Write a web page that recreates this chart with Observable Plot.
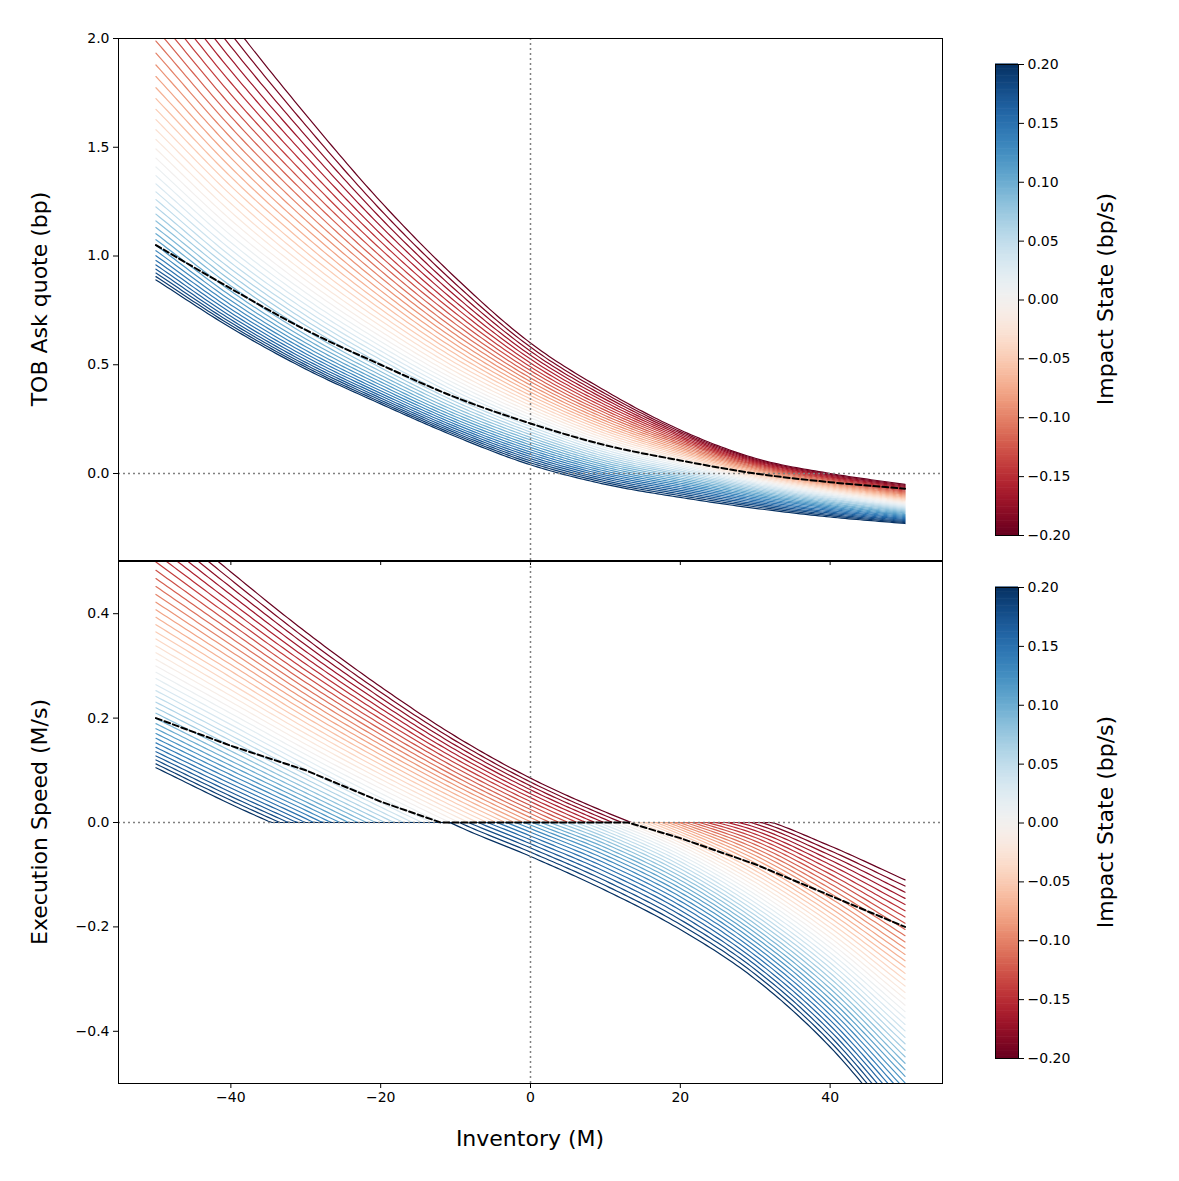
<!DOCTYPE html>
<html><head><meta charset="utf-8">
<script src="https://cdn.jsdelivr.net/npm/d3@7"></script>
<script src="https://cdn.jsdelivr.net/npm/@observablehq/plot@0.6"></script>
<style>
body{margin:0;background:#fff;font-family:"DejaVu Sans",sans-serif;}
#wrap{position:relative;width:1179px;height:1181px;}
.lab{position:absolute;font-size:22px;color:#000;white-space:nowrap;}
svg text{font-size:14px;}
</style></head>
<body><div id="wrap"></div>
<script>
// sample inventory positions
const xs=[-50,-40,-30,-20,-10,0,10,20,30,40,50];
// TOB ask quote (bp) for impact state -0.2, 0, 0.2
const topRed =[2.55,2.08,1.65,1.25,0.90,0.60,0.38,0.20,0.07,0.00,-0.05];
const topMid =[1.45,1.13,0.86,0.63,0.43,0.27,0.14,0.05,-0.03,-0.09,-0.14];
const topBlue=[0.89,0.67,0.48,0.32,0.17,0.04,-0.05,-0.11,-0.16,-0.20,-0.23];
const topDashX=xs;
const topDash=[1.05,0.85,0.66,0.50,0.35,0.23,0.13,0.06,0.00,-0.04,-0.07];
// Execution speed: positive branch and negative branch
const posRed =[0.60,0.48,0.365,0.26,0.165,0.085,0.02,-0.035,-0.085,-0.13,-0.17];
const posMid =[0.30,0.22,0.14,0.065,-0.005,-0.07,-0.13,-0.19,-0.25,-0.30,-0.35];
const posBlue=[0.105,0.035,-0.03,-0.10,-0.17,-0.24,-0.30,-0.36,-0.42,-0.48,-0.54];
const negRed =[0.50,0.40,0.31,0.23,0.16,0.10,0.055,0.03,0.01,-0.045,-0.11];
const negMid =[0.45,0.36,0.28,0.20,0.12,0.06,0.01,-0.05,-0.13,-0.23,-0.35];
const negBlue=[0.35,0.25,0.155,0.07,-0.005,-0.065,-0.13,-0.205,-0.30,-0.43,-0.60];
const botDashX=[-50,-40,-30,-20,-12,13,20,30,40,50];
const botDash=[0.20,0.147,0.10,0.04,0,0,-0.03,-0.08,-0.14,-0.20];
const states=d3.range(41).map(i=>-0.2+i*0.01);
const topTicks=[0,0.5,1,1.5,2];
const botTicks=[-0.4,-0.2,0,0.2,0.4];
const xTicks=[-40,-20,0,20,40];
const cbTicks=d3.range(9).map(i=>-0.2+i*0.05);

function cr(a,x){
  let t=(x+50)/10,i=Math.min(9,Math.floor(t)),u=t-i;
  const p=k=>k<0?2*a[0]-a[1]:k>10?2*a[10]-a[9]:a[k];
  const p0=p(i-1),p1=p(i),p2=p(i+1),p3=p(i+2);
  return 0.5*((2*p1)+(-p0+p2)*u+(2*p0-5*p1+4*p2-p3)*u*u+(-p0+3*p1-3*p2+p3)*u*u*u);
}
function quad(s,a,b,c){
  return a*s*(s-0.2)/0.08 + b*(s+0.2)*(s-0.2)/(-0.04) + c*s*(s+0.2)/0.08;
}
const fx=d3.range(-50,50.01,0.5);
const topData=[],botData=[];
for(const s of states){
  for(const x of fx){
    topData.push({s,x,y:quad(s,cr(topRed,x),cr(topMid,x),cr(topBlue,x))});
    const p=quad(s,cr(posRed,x),cr(posMid,x),cr(posBlue,x));
    const n=quad(s,cr(negRed,x),cr(negMid,x),cr(negBlue,x));
    botData.push({s,x,y:Math.max(0,p)+Math.min(0,n)});
  }
}
const color={type:"linear",scheme:"RdBu",domain:[-0.2,0.2]};
const font='"DejaVu Sans",sans-serif';
const st={fontSize:"14px",fontFamily:font,color:"#000",background:"transparent"};
const wrap=document.getElementById("wrap");
function place(el,l,t){el.style.position="absolute";el.style.left=l+"px";el.style.top=t+"px";wrap.appendChild(el);}

const topPlot=Plot.plot({
  width:960,height:600,marginLeft:118,marginRight:18,marginTop:38,marginBottom:40,
  style:st,
  x:{domain:[-55,55],ticks:xTicks,tickSize:5,label:null,tickFormat:()=>""},
  y:{domain:[-0.4,2.0],ticks:topTicks,tickFormat:d3.format(".1f"),tickSize:5,label:null},
  color,
  marks:[
    Plot.line(topData,{x:"x",y:"y",z:"s",stroke:"s",strokeWidth:1.2,clip:true}),
    Plot.ruleY([0],{stroke:"#808080",strokeDasharray:"2,3",strokeWidth:1.5}),
    Plot.ruleX([0],{stroke:"#808080",strokeDasharray:"2,3",strokeWidth:1.5}),
    Plot.line(topDashX.map((x,i)=>({x,y:topDash[i]})),{x:"x",y:"y",curve:"catmull-rom",stroke:"black",strokeWidth:2,strokeDasharray:"6,3"}),
    Plot.frame({stroke:"black"})
  ]
});
place(topPlot,0,0);
const botPlot=Plot.plot({
  width:960,height:620,marginLeft:118,marginRight:18,marginTop:21,marginBottom:77,
  style:st,
  x:{domain:[-55,55],ticks:xTicks,tickSize:5,label:null},
  y:{domain:[-0.5,0.5],ticks:botTicks,tickFormat:d3.format(".1f"),tickSize:5,label:null},
  color,
  marks:[
    Plot.line(botData,{x:"x",y:"y",z:"s",stroke:"s",strokeWidth:1.2,clip:true}),
    Plot.ruleY([0],{stroke:"#808080",strokeDasharray:"2,3",strokeWidth:1.5}),
    Plot.ruleX([0],{stroke:"#808080",strokeDasharray:"2,3",strokeWidth:1.5}),
    Plot.line(botDashX.map((x,i)=>({x,y:botDash[i]})),{x:"x",y:"y",stroke:"black",strokeWidth:2,strokeDasharray:"6,3"}),
    Plot.frame({stroke:"black"})
  ]
});
place(botPlot,0,540);
function cbar(){
  const steps=d3.range(200).map(i=>-0.2+i*0.4/200);
  return Plot.plot({
    width:120,height:511,marginLeft:35,marginRight:62,marginTop:20,marginBottom:20,
    style:st,
    x:{domain:[0,1],axis:null},
    y:{domain:[-0.2,0.2],ticks:cbTicks,tickFormat:d3.format(".2f"),axis:"right",tickSize:5,label:null},
    color,
    marks:[
      Plot.rect(steps,{x1:0,x2:1,y1:d=>d,y2:d=>d+0.4/200+0.0005,fill:d=>d+0.001}),
      Plot.frame({stroke:"black"})
    ]
  });
}
place(cbar(),960,44);
place(cbar(),960,567);
function lab(text,l,t,rot){
  const d=document.createElement("div");d.className="lab";d.textContent=text;
  d.style.left=l+"px";d.style.top=t+"px";
  d.style.transform=rot?"translate(-50%,-50%) rotate(-90deg)":"translate(-50%,-50%)";
  wrap.appendChild(d);
}
lab("TOB Ask quote (bp)",39,299,true);
lab("Execution Speed (M/s)",39,822,true);
lab("Inventory (M)",530,1138,false);
lab("Impact State (bp/s)",1105,299,true);
lab("Impact State (bp/s)",1105,822,true);
</script></body></html>
